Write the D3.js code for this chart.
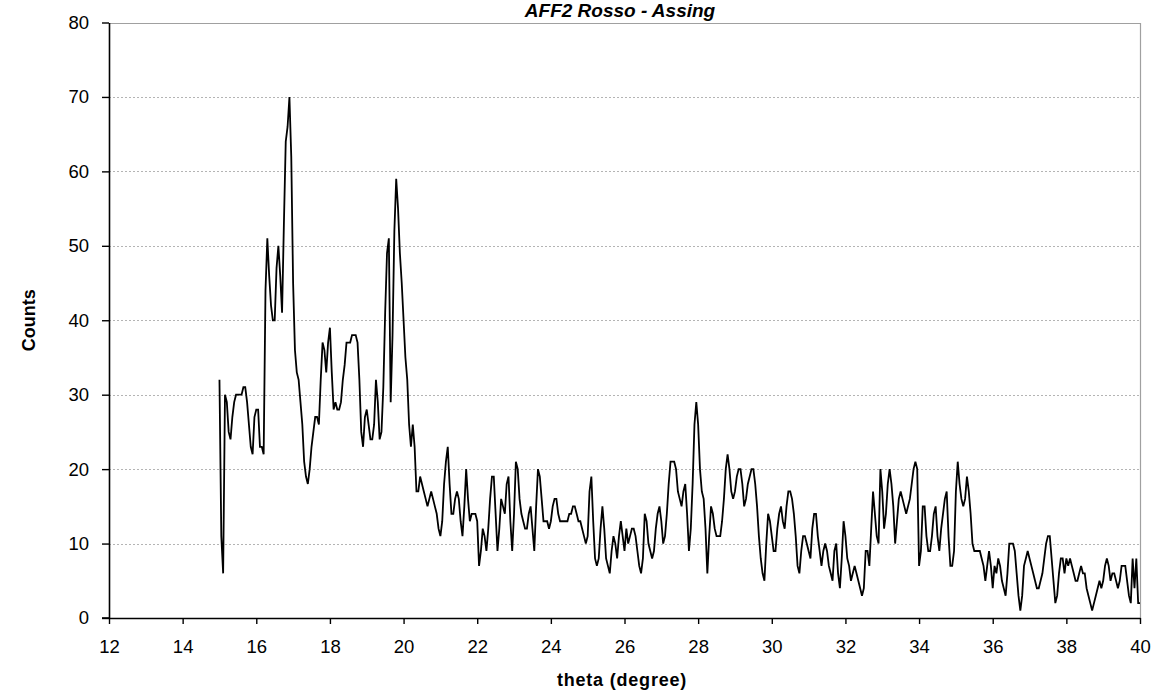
<!DOCTYPE html>
<html>
<head>
<meta charset="utf-8">
<script src="https://cdn.jsdelivr.net/npm/d3@7"></script>
<style>
  html, body { margin: 0; padding: 0; background: #fff; }
  svg { display: block; }
  text { font-family: "Liberation Sans", Arial, sans-serif; }
</style>
</head>
<body>
<svg id="chart" width="1153" height="697"></svg>
<script>
// X-ray diffraction scan: counts every 0.05 degree from 15 to 40
const title = "AFF2 Rosso - Assing";
const xLabel = "theta (degree)";
const yLabel = "Counts";
const thetaStart = 15;
const thetaStep = 0.05;
const counts = [
  32,11,6,30,29,25,24,27,29,30,30,30,30,31,31,29,26,23,22,27,
  28,28,23,23,22,44,51,46,42,40,40,47,50,46,41,53,64,66,70,62,
  45,36,33,32,29,26,21,19,18,20,23,25,27,27,26,32,37,36,33,37,
  39,33,28,29,28,28,29,32,34,37,37,37,38,38,38,37,32,25,23,27,
  28,26,24,24,26,32,29,24,25,31,41,49,51,29,38,52,59,55,49,45,
  40,35,32,26,23,26,23,17,17,19,18,17,16,15,16,17,16,15,14,12,
  11,13,18,21,23,18,14,14,16,17,16,13,11,15,20,16,13,14,14,14,
  13,7,9,12,11,9,12,16,19,19,14,9,12,16,15,14,18,19,13,9,
  14,21,20,16,14,13,12,12,14,15,12,9,15,20,19,16,13,13,13,12,
  13,15,16,16,14,13,13,13,13,13,14,14,15,15,14,13,13,12,11,10,
  11,17,19,13,8,7,8,12,15,12,8,7,6,9,11,10,8,11,13,11,
  9,12,10,11,12,12,11,9,7,6,8,14,13,10,9,8,9,12,14,15,
  13,10,11,14,18,21,21,21,20,17,16,15,17,18,14,9,12,18,26,29,
  26,20,17,16,12,6,11,15,14,12,11,11,11,13,16,20,22,20,17,16,
  17,19,20,20,18,15,16,18,19,20,20,18,15,11,8,6,5,10,14,13,
  11,9,9,12,14,15,13,12,15,17,17,16,14,11,7,6,9,11,11,10,
  9,8,12,14,14,11,9,7,9,10,9,7,6,5,9,10,6,4,8,13,
  11,8,7,5,6,7,6,5,4,3,4,9,9,7,12,17,14,11,10,20,
  17,12,14,18,20,18,15,10,13,16,17,16,15,14,15,16,18,20,21,20,
  7,9,15,15,11,9,9,11,14,15,11,9,12,14,16,17,11,7,7,9,
  17,21,18,16,15,16,19,17,14,10,9,9,9,9,8,7,5,7,9,7,
  4,7,6,8,7,5,4,3,6,10,10,10,9,6,3,1,3,7,8,9,
  8,7,6,5,4,4,5,6,8,10,11,11,8,5,2,3,6,8,8,6,
  8,7,8,7,6,5,5,6,7,6,6,4,3,2,1,2,3,4,5,4,
  5,7,8,7,5,6,6,5,4,5,7,7,7,5,3,2,8,4,8,2,
  2
];
const xTicks = [12, 14, 16, 18, 20, 22, 24, 26, 28, 30, 32, 34, 36, 38, 40];
const yTicks = [0, 10, 20, 30, 40, 50, 60, 70, 80];

const svg = d3.select("#chart");
const plot = { left: 109, right: 1140, top: 22.5, bottom: 618 };

const x = d3.scaleLinear().domain([12, 40]).range([plot.left, plot.right]);
const y = d3.scaleLinear().domain([0, 80]).range([plot.bottom, plot.top]);

const points = counts.map((c, i) => ({ theta: thetaStart + i * thetaStep, count: c }));

// horizontal dotted grid
svg.append("g")
  .selectAll("line")
  .data(yTicks.filter(t => t > 0 && t < 80))
  .join("line")
  .attr("x1", plot.left).attr("x2", plot.right)
  .attr("y1", d => Math.round(y(d)) + 0.5).attr("y2", d => Math.round(y(d)) + 0.5)
  .attr("stroke", "#b4b4b4")
  .attr("stroke-width", 1)
  .attr("stroke-dasharray", "2,2");

// top and right frame of the plot area
svg.append("path")
  .attr("d", `M${plot.left},${Math.round(y(80)) + 0.5}H${Math.round(x(40)) + 0.5}V${plot.bottom}`)
  .attr("fill", "none")
  .attr("stroke", "#a0a0a0")
  .attr("stroke-width", 1.2);

// data trace
const line = d3.line().x(d => x(d.theta)).y(d => y(d.count));
svg.append("path")
  .datum(points)
  .attr("d", line)
  .attr("fill", "none")
  .attr("stroke", "#000")
  .attr("stroke-width", 1.8)
  .attr("stroke-linejoin", "miter");

// axes
const yAxis = svg.append("g")
  .attr("transform", `translate(${plot.left},0)`)
  .call(d3.axisLeft(y).tickValues(yTicks).tickSize(7).tickSizeOuter(0).tickPadding(13));
const xAxis = svg.append("g")
  .attr("transform", `translate(0,${plot.bottom})`)
  .call(d3.axisBottom(x).tickValues(xTicks).tickSize(6).tickSizeOuter(0).tickPadding(16));

[yAxis, xAxis].forEach(g => {
  g.select(".domain").attr("stroke", "#000").attr("stroke-width", 1.6);
  g.selectAll(".tick line").attr("stroke", "#000").attr("stroke-width", 1.4);
  g.selectAll(".tick text")
    .attr("fill", "#000")
    .style("font-family", '"Liberation Sans", Arial, sans-serif')
    .style("font-size", "18.5px");
});

// extend the x axis line to the left tick end
svg.append("line")
  .attr("x1", plot.left - 7).attr("x2", plot.left)
  .attr("y1", plot.bottom).attr("y2", plot.bottom)
  .attr("stroke", "#000").attr("stroke-width", 1.6);

// title and axis labels
svg.append("text")
  .attr("x", 620).attr("y", 17)
  .attr("text-anchor", "middle")
  .style("font-size", "19px")
  .style("font-weight", "bold")
  .style("font-style", "italic")
  .text(title);

svg.append("text")
  .attr("x", 622).attr("y", 686)
  .attr("text-anchor", "middle")
  .style("font-size", "18px")
  .style("font-weight", "bold")
  .style("letter-spacing", "0.8px")
  .text(xLabel);

svg.append("text")
  .attr("transform", `translate(35,${(plot.top + plot.bottom) / 2}) rotate(-90)`)
  .attr("text-anchor", "middle")
  .style("font-size", "18px")
  .style("font-weight", "bold")
  .text(yLabel);
</script>
</body>
</html>
